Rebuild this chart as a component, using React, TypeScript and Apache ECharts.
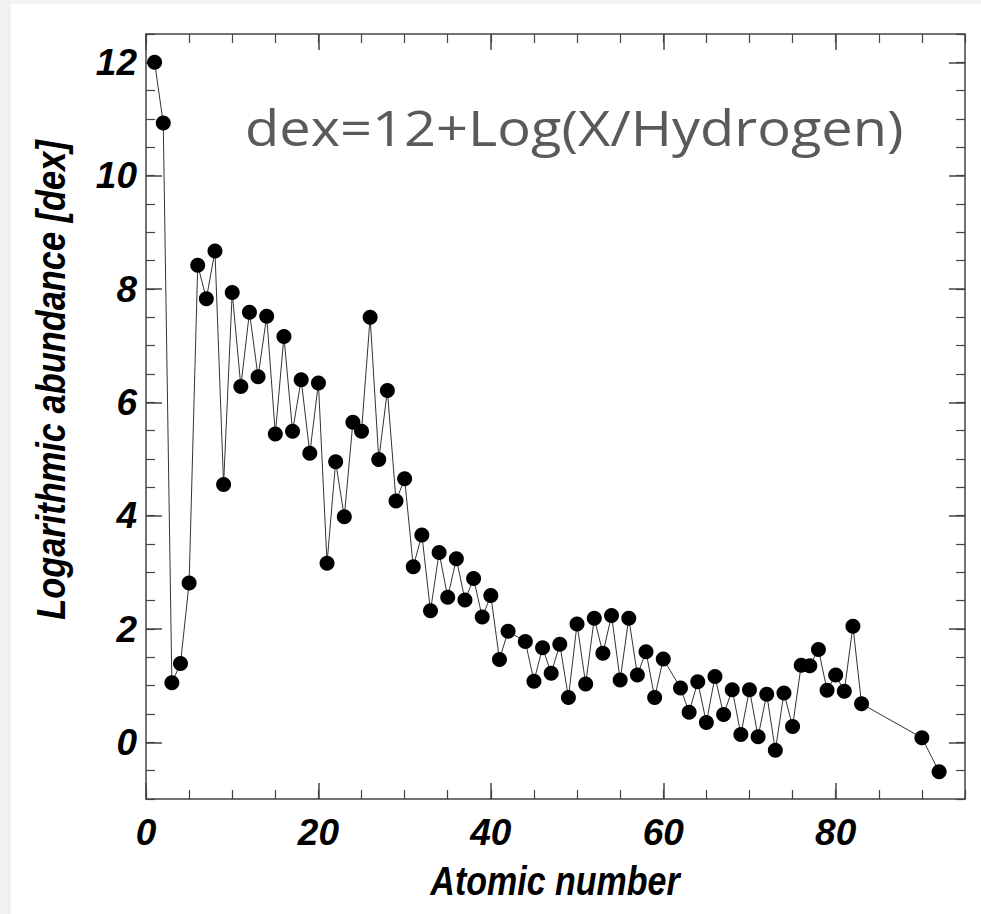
import React, { useEffect, useRef } from "react";
import * as echarts from "echarts";

const atomicNumbers = [
  1, 2, 3, 4, 5, 6, 7, 8, 9, 10, 11, 12, 13, 14, 15, 16, 17, 18, 19, 20,
  21, 22, 23, 24, 25, 26, 27, 28, 29, 30, 31, 32, 33, 34, 35, 36, 37, 38, 39, 40,
  41, 42, 44, 45, 46, 47, 48, 49, 50, 51, 52, 53, 54, 55, 56, 57, 58, 59, 60,
  62, 63, 64, 65, 66, 67, 68, 69, 70, 71, 72, 73, 74, 75, 76, 77, 78, 79, 80,
  81, 82, 83, 90, 92,
];

const abundances = [
  12.0, 10.93, 1.05, 1.39, 2.81, 8.42, 7.83, 8.67, 4.55, 7.94, 6.28, 7.59, 6.45, 7.52, 5.44, 7.16, 5.49, 6.4, 5.1, 6.34,
  3.16, 4.95, 3.98, 5.65, 5.49, 7.5, 4.99, 6.21, 4.26, 4.65, 3.1, 3.66, 2.32, 3.35, 2.56, 3.24, 2.51, 2.89, 2.21, 2.59,
  1.46, 1.96, 1.78, 1.08, 1.67, 1.22, 1.73, 0.79, 2.09, 1.03, 2.19, 1.57, 2.24, 1.1, 2.19, 1.19, 1.6, 0.79, 1.47,
  0.96, 0.53, 1.07, 0.35, 1.16, 0.49, 0.93, 0.14, 0.93, 0.1, 0.85, -0.14, 0.87, 0.28, 1.36, 1.35, 1.64, 0.92, 1.19,
  0.9, 2.05, 0.68, 0.08, -0.52,
];

const xMajorTicks = [0, 20, 40, 60, 80];
const yMajorTicks = [0, 2, 4, 6, 8, 10, 12];
const xRange = [0, 95];
const yRange = [-1, 12.5];

const xLabel = "Atomic number";
const yLabel = "Logarithmic abundance [dex]";
const annotation = "dex=12+Log(X/Hydrogen)";

const FONT = "'Liberation Sans', Arial, Helvetica, sans-serif";
const AXIS_COLOR = "#444";

export default function App() {
  const ref = useRef<HTMLDivElement>(null);

  useEffect(() => {
    document.body.style.margin = "0";
    if (!ref.current) return;
    const chart = echarts.init(ref.current, undefined, { renderer: "svg" });

    const labelStyle = {
      fontFamily: FONT,
      fontWeight: "bold" as const,
      fontStyle: "italic" as const,
      fontSize: 37,
      color: "#000",
    };

    const baseLine = { show: true, onZero: false, lineStyle: { color: AXIS_COLOR, width: 1.5 } };

    const xAxisMajor = (position: "bottom" | "top", showLabel: boolean) => ({
      type: "value" as const,
      position,
      min: xRange[0],
      max: xRange[1],
      axisLine: baseLine,
      splitLine: { show: false },
      axisTick: {
        show: true,
        inside: true,
        length: 16,
        customValues: xMajorTicks,
        lineStyle: { color: AXIS_COLOR, width: 1.5 },
      },
      axisLabel: showLabel
        ? { show: true, customValues: xMajorTicks, margin: 15, ...labelStyle }
        : { show: false },
    });

    const xAxisMinor = (position: "bottom" | "top") => ({
      type: "value" as const,
      position,
      min: xRange[0],
      max: xRange[1],
      interval: 5,
      axisLine: { show: false, onZero: false },
      splitLine: { show: false },
      axisTick: { show: true, inside: true, length: 9, lineStyle: { color: AXIS_COLOR, width: 1.2 } },
      axisLabel: { show: false },
    });

    const yAxisMajor = (position: "left" | "right", showLabel: boolean) => ({
      type: "value" as const,
      position,
      min: yRange[0],
      max: yRange[1],
      axisLine: baseLine,
      splitLine: { show: false },
      axisTick: {
        show: true,
        inside: true,
        length: 16,
        customValues: yMajorTicks,
        lineStyle: { color: AXIS_COLOR, width: 1.5 },
      },
      axisLabel: showLabel
        ? { show: true, customValues: yMajorTicks, margin: 9, ...labelStyle }
        : { show: false },
    });

    const yAxisMinor = (position: "left" | "right") => ({
      type: "value" as const,
      position,
      min: yRange[0],
      max: yRange[1],
      interval: 0.5,
      axisLine: { show: false, onZero: false },
      splitLine: { show: false },
      axisTick: { show: true, inside: true, length: 9, lineStyle: { color: AXIS_COLOR, width: 1.2 } },
      axisLabel: { show: false },
    });

    const seriesData = atomicNumbers.map((z, i) => [z, abundances[i]]);

    chart.setOption({
      animation: false,
      backgroundColor: "#fff",
      grid: { left: 146, right: 16, top: 34, bottom: 115, containLabel: false },
      xAxis: [xAxisMajor("bottom", true), xAxisMinor("bottom"), xAxisMajor("top", false), xAxisMinor("top")],
      yAxis: [yAxisMajor("left", true), yAxisMinor("left"), yAxisMajor("right", false), yAxisMinor("right")],
      graphic: [
        { type: "rect", shape: { x: 0, y: 0, width: 11, height: 914 }, style: { fill: "#f1f1f1" }, silent: true },
        { type: "rect", shape: { x: 11, y: 0, width: 970, height: 4 }, style: { fill: "#f4f4f4" }, silent: true },
        {
          type: "text",
          x: 51,
          y: 380,
          rotation: Math.PI / 2,
          scaleX: 0.86,
          style: {
            text: yLabel,
            fontFamily: FONT,
            fontWeight: "bold",
            fontStyle: "italic",
            fontSize: 40,
            fill: "#000",
            align: "center",
            verticalAlign: "middle",
          },
        },
        {
          type: "text",
          x: 555,
          y: 881,
          scaleX: 0.85,
          style: {
            text: xLabel,
            fontFamily: FONT,
            fontWeight: "bold",
            fontStyle: "italic",
            fontSize: 40,
            fill: "#000",
            align: "center",
            verticalAlign: "middle",
          },
        },
        {
          type: "text",
          x: 245,
          y: 127,
          scaleX: 1.12,
          style: {
            text: annotation,
            fontFamily: "'Open Sans', 'DejaVu Sans', sans-serif",
            fontWeight: "normal",
            fontSize: 50,
            fill: "#5a5a5a",
            align: "left",
            verticalAlign: "middle",
          },
        },
      ],
      series: [
        {
          type: "line",
          xAxisIndex: 0,
          yAxisIndex: 0,
          data: seriesData,
          symbol: "circle",
          symbolSize: 15,
          showSymbol: true,
          itemStyle: { color: "#000" },
          lineStyle: { color: "#333", width: 1 },
          clip: false,
          z: 3,
        },
      ],
    });

    return () => chart.dispose();
  }, []);

  return (
    <div
      ref={ref}
      style={{ position: "absolute", left: 0, top: 0, width: 981, height: 914 }}
    />
  );
}
